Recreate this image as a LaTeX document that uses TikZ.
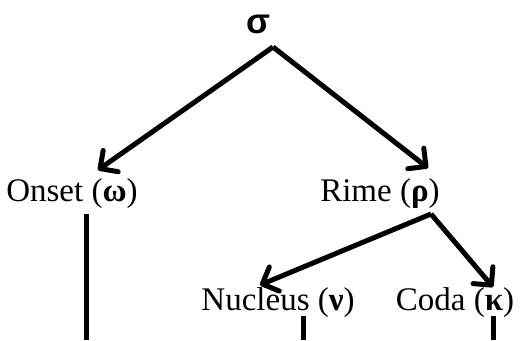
\documentclass[tikz,border=0pt]{standalone}
\usepackage{fontspec}
\setmainfont{Liberation Serif}
\newfontfamily\sigmafont{Liberation Sans}
\usetikzlibrary{arrows.meta}
\tikzset{
  lbl/.style={inner sep=0pt, font=\fontsize{33}{36}\selectfont},
  edge/.style={line width=5pt, -{Straight Barb[length=13pt,width=26pt,line cap=round,line join=round]}},
  stem/.style={line width=5pt}
}
\begin{document}
\begin{tikzpicture}[x=1pt,y=-1pt]
\useasboundingbox (0,0) rectangle (524,340);
\node[inner sep=0pt, font=\sigmafont\bfseries\fontsize{35}{38}\selectfont] (s) at (258,24) {σ};
\node[lbl] (on) at (72,194) {Onset (\textbf{ω})};
\node[lbl] (ri) at (380,194) {Rime (\textbf{ρ})};
\node[lbl] (nu) at (278,303) {Nucleus (\textbf{ν})};
\node[lbl] (co) at (455,303) {Coda (\textbf{κ})};
\coordinate (sa) at (273,47);
\coordinate (ont) at (98,170);
\coordinate (rit) at (428,168);
\coordinate (ra) at (431,214);
\coordinate (nut) at (260,285);
\coordinate (cot) at (493,287);
\coordinate (onb) at (86,214);
\coordinate (onx) at (86,340);
\coordinate (nub) at (303,316);
\coordinate (nux) at (303,340);
\coordinate (cob) at (493,316);
\coordinate (cox) at (493,340);
\draw[edge] (sa) -- (ont);
\draw[edge] (sa) -- (rit);
\draw[edge] (ra) -- (nut);
\draw[edge] (ra) -- (cot);
\draw[stem] (onb) -- (onx);
\draw[stem] (nub) -- (nux);
\draw[stem] (cob) -- (cox);
\end{tikzpicture}
\end{document}
